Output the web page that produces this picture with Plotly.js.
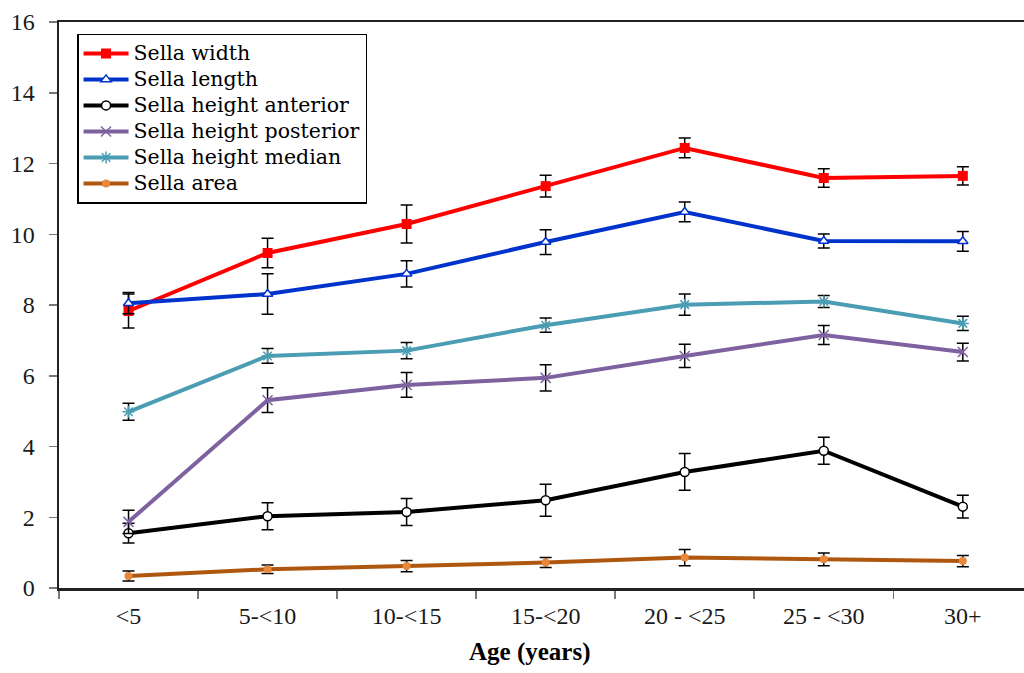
<!DOCTYPE html>
<html>
<head>
<meta charset="utf-8">
<script src="https://cdn.plot.ly/plotly-3.0.1.min.js"></script>
<style>html,body{margin:0;padding:0;background:#fff;}#chart{width:1024px;height:673px;}</style>
</head>
<body>
<div id="chart"></div>
<script>
const ageGroups = ["<5", "5-<10", "10-<15", "15-<20", "20 - <25", "25 - <30", "30+"];

const sellaWidth = [7.83, 9.47, 10.29, 11.36, 12.44, 11.59, 11.65];
const sellaWidthErr = [0.48, 0.42, 0.54, 0.31, 0.28, 0.26, 0.26];

const sellaLength = [8.05, 8.31, 8.88, 9.78, 10.63, 9.81, 9.8];
const sellaLengthErr = [0.3, 0.57, 0.37, 0.35, 0.28, 0.2, 0.28];

const heightAnterior = [1.55, 2.03, 2.15, 2.48, 3.28, 3.88, 2.3];
const heightAnteriorErr = [0.28, 0.38, 0.38, 0.45, 0.52, 0.38, 0.32];

const heightPosterior = [1.87, 5.31, 5.74, 5.94, 6.56, 7.15, 6.67];
const heightPosteriorErr = [0.33, 0.35, 0.35, 0.37, 0.33, 0.27, 0.25];

const heightMedian = [4.98, 6.56, 6.71, 7.43, 8.01, 8.1, 7.48];
const heightMedianErr = [0.24, 0.21, 0.23, 0.2, 0.3, 0.17, 0.2];

const sellaArea = [0.34, 0.53, 0.62, 0.72, 0.86, 0.81, 0.76];
const sellaAreaErr = [0.14, 0.12, 0.16, 0.14, 0.23, 0.18, 0.16];

const seriesNames = ['Sella width', 'Sella length', 'Sella height anterior',
  'Sella height posterior', 'Sella height median', 'Sella area'];

const yTicks = [0, 2, 4, 6, 8, 10, 12, 14, 16];

function err(arr) {
  return {type: 'data', array: arr, visible: true, color: '#000', thickness: 1.5, width: 6};
}
function lg(name) {
  return '<span style="font-size:20.5px">' + name + '</span>';
}

const traces = [
  {name: lg(seriesNames[0]), x: ageGroups, y: sellaWidth, error_y: err(sellaWidthErr),
   mode: 'lines+markers', line: {color: '#FF0000', width: 4},
   marker: {symbol: 'square', size: 10, color: '#FF0000'}},
  {name: lg(seriesNames[1]), x: ageGroups, y: sellaLength, error_y: err(sellaLengthErr),
   mode: 'lines+markers', line: {color: '#0033CC', width: 4},
   marker: {symbol: 'triangle-up', size: 9, color: '#FFFFFF', line: {color: '#0033CC', width: 1.5}}},
  {name: lg(seriesNames[2]), x: ageGroups, y: heightAnterior, error_y: err(heightAnteriorErr),
   mode: 'lines+markers', line: {color: '#000000', width: 4},
   marker: {symbol: 'circle', size: 9, color: '#FFFFFF', line: {color: '#000000', width: 1.5}}},
  {name: lg(seriesNames[3]), x: ageGroups, y: heightPosterior, error_y: err(heightPosteriorErr),
   mode: 'lines+markers', line: {color: '#7E62A0', width: 4},
   marker: {symbol: 'x-thin-open', size: 10, color: '#7E62A0', line: {color: '#9A84BC', width: 1.5}}},
  {name: lg(seriesNames[4]), x: ageGroups, y: heightMedian, error_y: err(heightMedianErr),
   mode: 'lines+markers', line: {color: '#4A9DB3', width: 4},
   marker: {symbol: 'asterisk-open', size: 10, color: '#4A9DB3', line: {color: '#6FC0D6', width: 1.5}}},
  {name: lg(seriesNames[5]), x: ageGroups, y: sellaArea, error_y: err(sellaAreaErr),
   mode: 'lines+markers', line: {color: '#B0570F', width: 4},
   marker: {symbol: 'circle', size: 8, color: '#E8883A'}}
];

const layout = {
  width: 1024, height: 673,
  margin: {l: 59, r: 0, t: 22, b: 85},
  paper_bgcolor: '#fff', plot_bgcolor: '#fff',
  font: {family: '"Liberation Serif", "Times New Roman", serif', color: '#1a1a1a'},
  showlegend: true,
  legend: {
    x: 0.0187, y: 0.979, xanchor: 'left', yanchor: 'top',
    bgcolor: '#fff', bordercolor: '#000', borderwidth: 1.5,
    font: {size: 17.7, color: '#000', family: '"DejaVu Serif", serif'},
    tracegroupgap: 0, itemwidth: 45
  },
  xaxis: {
    type: 'category', range: [-0.5, 6.44],
    tickson: 'boundaries', ticks: 'outside', ticklen: 8, tickwidth: 1.5, tickcolor: '#777',
    showline: true, linecolor: '#222', linewidth: 2.5, mirror: true,
    showgrid: false, zeroline: false,
    tickfont: {size: 24, color: '#1a1a1a'},
    ticklabelstandoff: 5
  },
  yaxis: {
    range: [0, 16], tickvals: yTicks, ticktext: yTicks.map(String),
    ticks: 'outside', ticklen: 8, tickwidth: 1.5, tickcolor: '#777',
    showline: true, linecolor: '#222', linewidth: 2.5,
    showgrid: false, zeroline: false,
    tickfont: {size: 24, color: '#1a1a1a'},
    ticklabelstandoff: 9
  },
  annotations: [{
    text: '<b>Age (years)</b>', xref: 'paper', yref: 'paper',
    x: 0.488, y: -0.113, xanchor: 'center', yanchor: 'middle', showarrow: false,
    font: {size: 25, color: '#000', family: '"Liberation Serif", serif'}
  }]
};

Plotly.newPlot('chart', traces, layout, {displayModeBar: false, staticPlot: true});
</script>
</body>
</html>
